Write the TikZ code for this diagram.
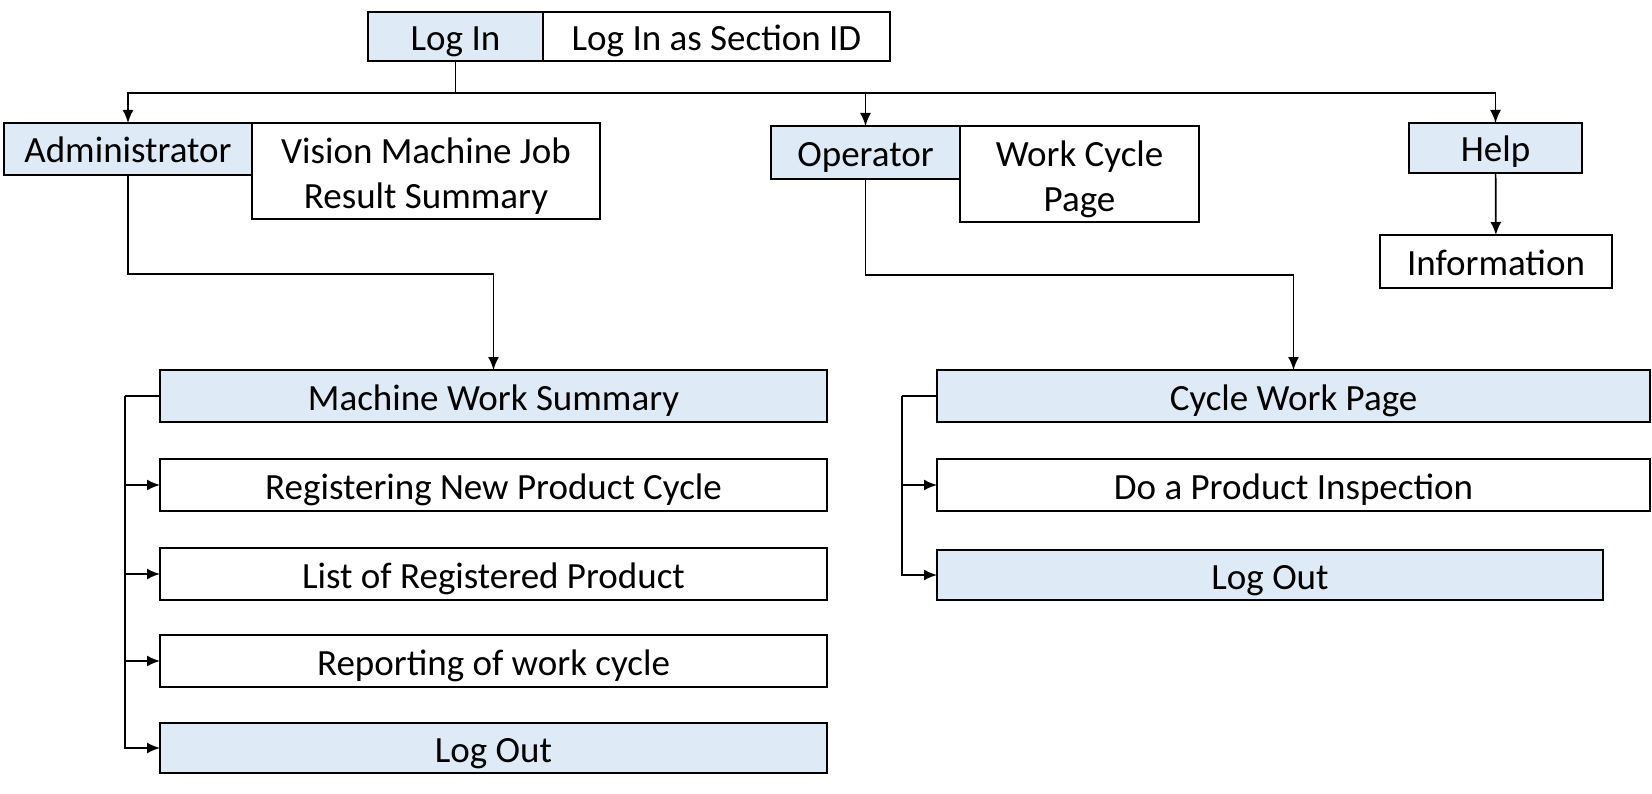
\documentclass[tikz,border=0pt]{standalone}
\usepackage{fontspec}
\setmainfont{Carlito}
\usetikzlibrary{arrows.meta,positioning}
\definecolor{menublue}{RGB}{222,235,247}
\tikzstyle{every node}=[font=\fontsize{37}{45}\selectfont]
\tikzstyle{menu}=[rectangle,
                  draw=black,
                  line width=1.8pt,
                  fill=menublue,
                  inner sep=0pt,
                  outer sep=0pt,
                  minimum height=52,
                  text height=30pt,
                  text depth=2pt]
\tikzstyle{screen}=[rectangle,
                    draw=black,
                    line width=1.8pt,
                    fill=white,
                    inner sep=0pt,
                    outer sep=0pt,
                    minimum height=52,
                    text height=30pt,
                    text depth=2pt]
\tikzstyle{notes}=[rectangle,
                   draw=black,
                   line width=1.8pt,
                   fill=white,
                   inner sep=0pt,
                   outer sep=0pt,
                   minimum height=96,
                   align=center,
                   anchor=north west]

\begin{document}
\begin{tikzpicture}[x=1pt,y=-1pt,>={Latex[length=13pt,width=11pt]},line width=1.7pt]
\useasboundingbox (0,0) rectangle (1652,794);
% top row
\node (LogIn)    [menu,minimum width=175,minimum height=49] at (455.5,36.5) {Log In};
\node (LogInID)  [screen,minimum width=347,minimum height=49,right=0pt of LogIn] {Log In as Section ID};
\node (Admin)    [menu,minimum width=248] at (128,149) {Administrator};
\node (Vision)   [notes,minimum width=348] at (Admin.north east) {\rule{0pt}{36pt}Vision Machine Job\\Result Summary};
\node (Operator) [menu,minimum width=189,minimum height=53] at (865.5,152.5) {Operator};
\node (WorkCyc)  [notes,minimum width=239] at (Operator.north east) {\rule{0pt}{36pt}Work Cycle\\Page};
\node (Help)     [menu,minimum width=173,minimum height=50] at (1495.5,148) {Help};
\node (Info)     [screen,minimum width=232,minimum height=53] at (1496,261.5) {Information};
% administrator pages
\node (MWS)      [menu,minimum width=667] at (493.5,396) {Machine Work Summary};
\node (RegCycle) [screen,minimum width=667,below=37pt of MWS] {Registering New Product Cycle};
\node (ListProd) [screen,minimum width=667,below=37pt of RegCycle] {List of Registered Product};
\node (Report)   [screen,minimum width=667,below=35pt of ListProd] {Reporting of work cycle};
\node (LogOutA)  [menu,minimum width=667,minimum height=50,below=36pt of Report] {Log Out};
% operator pages
\node (CWP)      [menu,minimum width=713] at (1293.5,396) {Cycle Work Page};
\node (Inspect)  [screen,minimum width=713,below=37pt of CWP] {Do a Product Inspection};
\node (LogOutB)  [menu,minimum width=666,minimum height=50,below=39pt of Inspect.south west,anchor=north west] {Log Out};

\draw (LogIn.south) -- ++(0,32) coordinate (split);
\draw[->] (split) -| (Admin.north);
\draw[->] (split) -| (Operator.north);
\draw[->] (split) -| (Help.north);
\draw[->] (Help) -- (Info);
\draw[->] (Admin.south) -- ++(0,99) -| (MWS.north);
\draw[->] (Operator.south) -- ++(0,96) -| (CWP.north);

\draw (MWS.west) -- ++(-35,0) coordinate (busL);
\draw[->] (busL) |- (LogOutA.west);
\foreach \n in {RegCycle,ListProd,Report}
  \draw[->] (busL |- \n.west) -- (\n.west);

\draw (CWP.west) -- ++(-35,0) coordinate (busR);
\draw[->] (busR) |- (LogOutB.west);
\draw[->] (busR |- Inspect.west) -- (Inspect.west);
\end{tikzpicture}
\end{document}
